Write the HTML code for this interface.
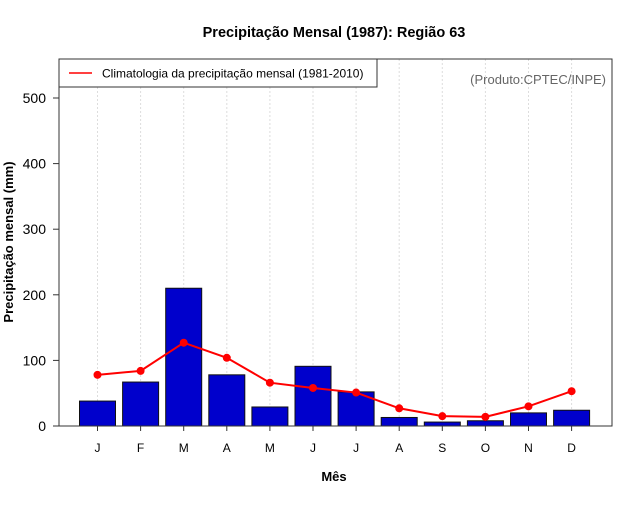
<!DOCTYPE html>
<html><head><meta charset="utf-8"><style>
body{margin:0;background:#fff;font-family:"Liberation Sans",sans-serif;}
svg text{font-family:"Liberation Sans",sans-serif;}
</style></head><body>
<svg width="640" height="500" xmlns="http://www.w3.org/2000/svg">
<text x="334" y="37" text-anchor="middle" font-size="14.5" font-weight="bold">Precipitação Mensal (1987): Região 63</text>
<g id="grid"></g>
<g id="bars"></g>
<g id="line"></g>
<rect x="59" y="59" width="553" height="367" fill="none" stroke="#333" stroke-width="1"/>
<g id="yaxis"></g>
<g id="xaxis"></g>
<text x="13" y="242" transform="rotate(-90 13 242)" text-anchor="middle" font-size="13" font-weight="bold">Precipitação mensal (mm)</text>
<text x="334" y="481" text-anchor="middle" font-size="13" font-weight="bold">Mês</text>
<g>
<rect x="59" y="59" width="318" height="28" fill="#fff" stroke="#333"/>
<line x1="69" y1="73" x2="92" y2="73" stroke="#f00" stroke-width="1.5"/>
<text x="102" y="77.5" font-size="12">Climatologia da precipitação mensal (1981-2010)</text>
</g>
<text x="606" y="84" text-anchor="end" font-size="13" fill="#666">(Produto:CPTEC/INPE)</text>
</svg>
<script>
const months=["J","F","M","A","M","J","J","A","S","O","N","D"];
const precip=[38,67,210,78,29,91,52,13,6,8,20,24];
const clim=[78,84,127,104,66,58,51,27,15,14,30,53];
const yTicks=[0,100,200,300,400,500];
const ns="http://www.w3.org/2000/svg";
const X=i=>97.5+i*43.1;
const Y=v=>426-v*0.656;
function mk(t,a,p){const e=document.createElementNS(ns,t);for(const k in a)e.setAttribute(k,a[k]);document.getElementById(p).appendChild(e);return e;}
months.forEach((m,i)=>{
 const g=mk("line",{x1:X(i),x2:X(i),y1:59,y2:426,stroke:"#ddd","stroke-dasharray":"2,2"},"grid");
 
 
 const b=mk("rect",{x:X(i)-18,y:Y(precip[i]),width:36,height:426-Y(precip[i]),fill:"#0000cc",stroke:"#111","stroke-width":1},"bars");
 
 
 const t=mk("line",{x1:X(i),x2:X(i),y1:426,y2:431,stroke:"#333"},"xaxis");
 
 
 const l=mk("text",{x:X(i),y:452,"text-anchor":"middle","font-size":"12"},"xaxis");
 l.textContent=m;
 
 
});
const pl=mk("polyline",{points:clim.map((v,i)=>X(i)+","+Y(v)).join(" "),fill:"none",stroke:"#f00","stroke-width":2},"line");


clim.forEach((v,i)=>{
 const c=mk("circle",{cx:X(i),cy:Y(v),r:4,fill:"#f00"},"line");
 
 
});
yTicks.forEach(v=>{
 const t=mk("line",{x1:53,x2:59,y1:Y(v),y2:Y(v),stroke:"#333"},"yaxis");
 
 
 const l=mk("text",{x:46,y:Y(v)+5,"text-anchor":"end","font-size":"14"},"yaxis");
 l.textContent=v;
 
 
});
</script>
</body></html>
